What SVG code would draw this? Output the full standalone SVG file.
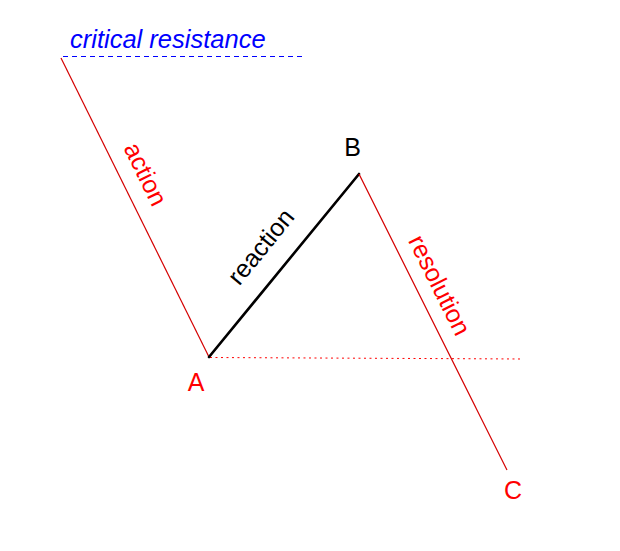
<svg xmlns="http://www.w3.org/2000/svg" width="620" height="551" viewBox="0 0 620 551">
<style>
text{font-family:"Liberation Sans",Arial,sans-serif;font-size:25px}
.red{fill:#ff0000}
.blk{fill:#000000}
.blue{fill:#0000ff;font-style:italic;font-size:25.5px}
.wave{stroke:#d40000;stroke-width:1.2;fill:none}
</style>
<rect width="620" height="551" fill="#ffffff"/>
<g id="connectors">
<line id="critical-line" x1="63" y1="56.5" x2="303" y2="56.5" stroke="#0000ff" stroke-width="1" stroke-dasharray="5,4"/>
<line id="a-level" x1="210" y1="357.5" x2="523" y2="359" stroke="#ff0000" stroke-width="1" stroke-dasharray="2,3.5"/>
<line id="action" class="wave" x1="61" y1="58" x2="209" y2="357"/>
<line id="reaction-red" class="wave" x1="209" y1="357" x2="359" y2="174"/>
<line id="reaction" x1="209" y1="357" x2="359" y2="174" stroke="#000000" stroke-width="2.6" stroke-linecap="round"/>
<line id="resolution" class="wave" x1="359" y1="174" x2="507" y2="470"/>
</g>
<g id="label-critical"><text class="blue" x="70" y="47.5">critical resistance</text></g>
<g id="label-action"><text class="red" x="138" y="178" text-anchor="middle" transform="rotate(63.7 138 178)">action</text></g>
<g id="label-reaction"><text class="blk" x="267.5" y="252" text-anchor="middle" transform="rotate(-50.7 267.5 252)">reaction</text></g>
<g id="label-resolution"><text class="red" x="432" y="289" text-anchor="middle" transform="rotate(63.4 432 289)">resolution</text></g>
<g id="node-A"><text class="red" x="196" y="391" text-anchor="middle">A</text></g>
<g id="node-B"><text class="blk" x="352.5" y="156" text-anchor="middle">B</text></g>
<g id="node-C"><text class="red" x="513" y="498.5" text-anchor="middle">C</text></g>
</svg>
